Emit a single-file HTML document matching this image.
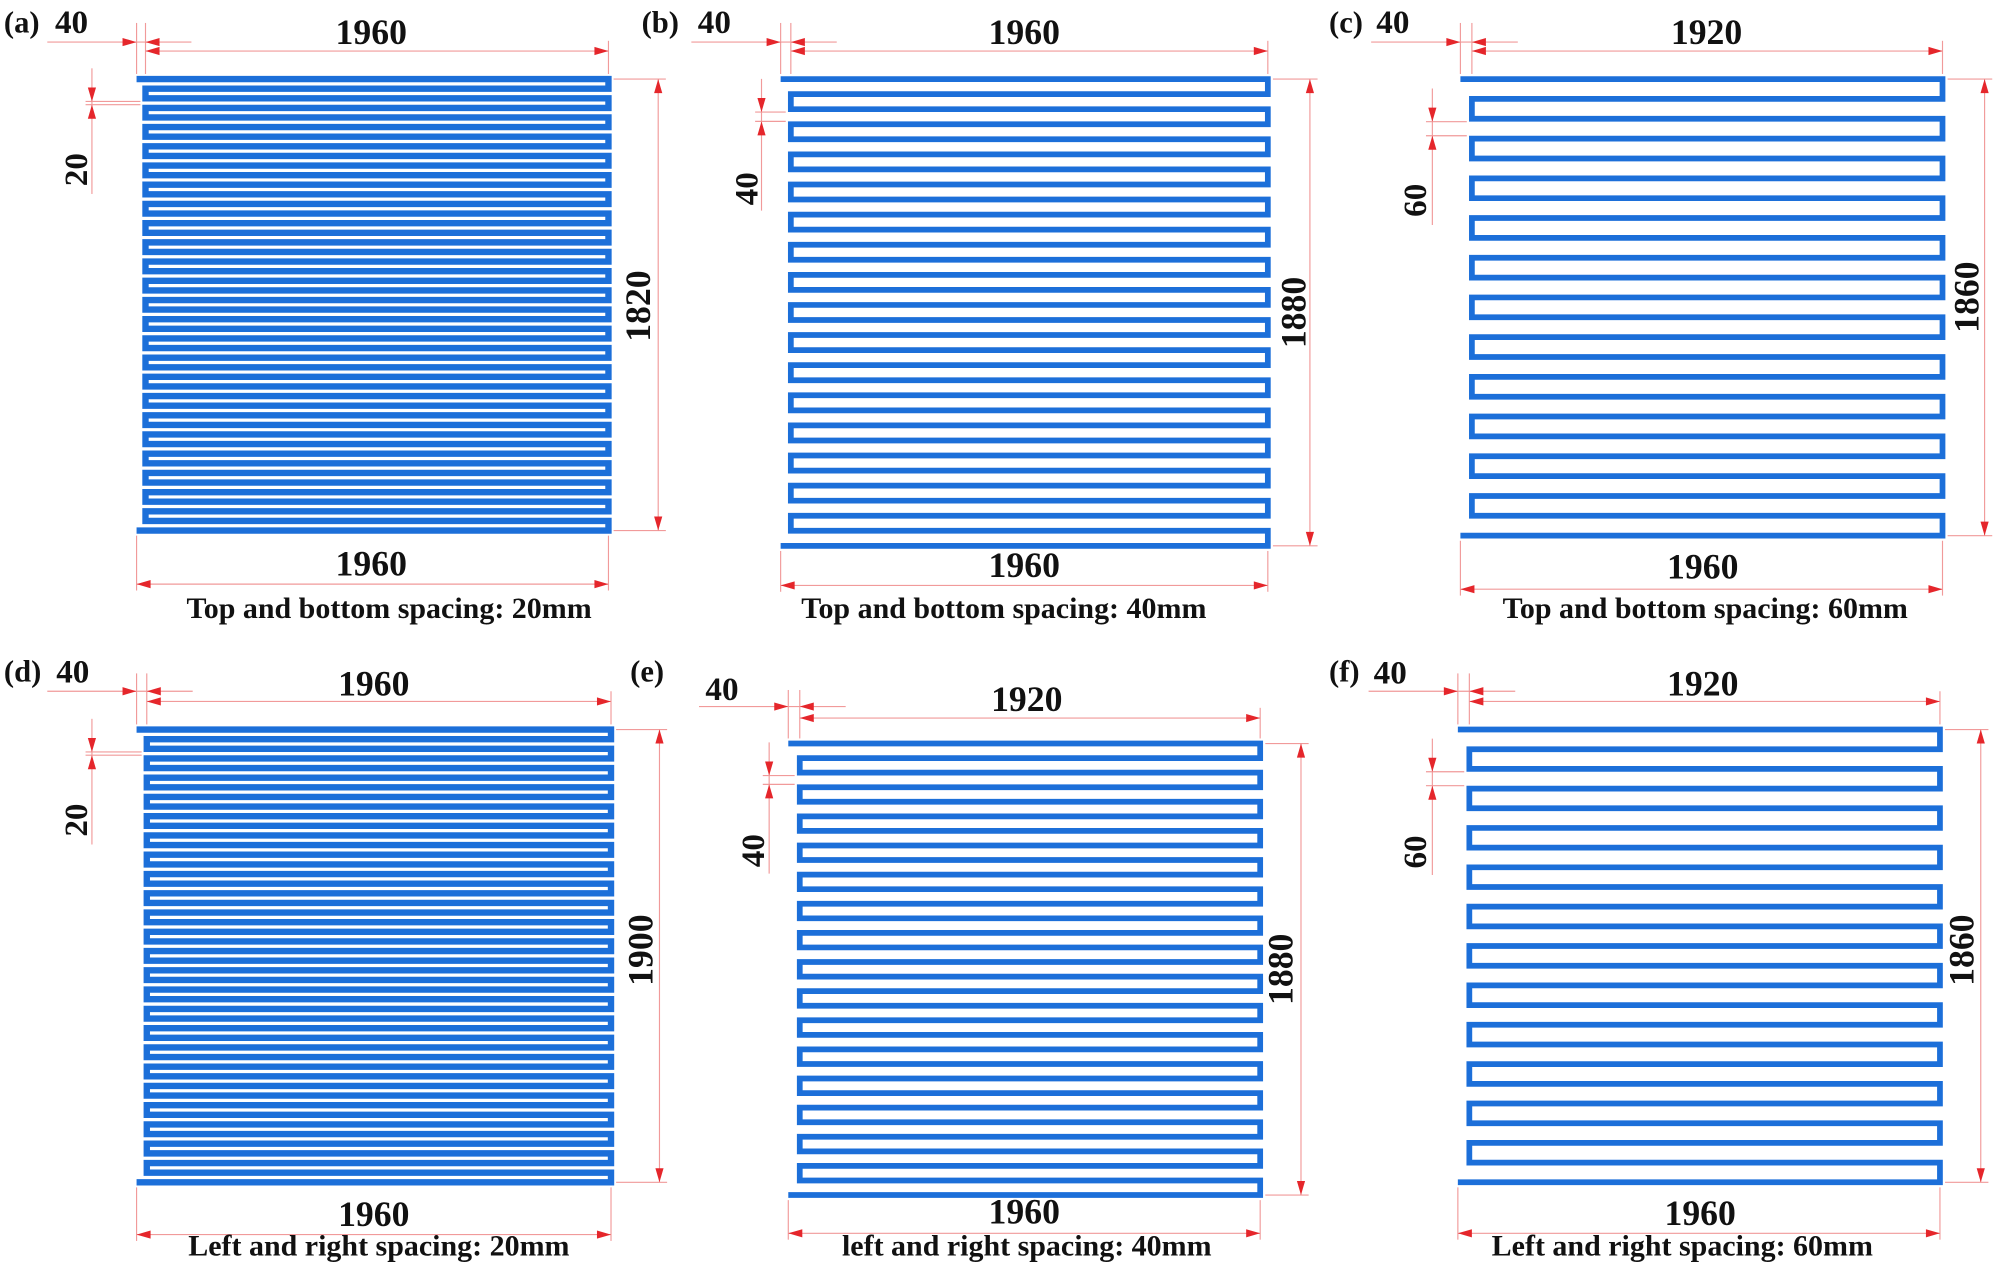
<!DOCTYPE html>
<html><head><meta charset="utf-8"><style>
html,body{margin:0;padding:0;background:#fff;}
svg{display:block;}
text{font-family:"Liberation Serif",serif;font-weight:bold;fill:#111;}
</style></head><body>
<svg id="fig" width="2000" height="1269" viewBox="0 0 1568 995"></svg>
<script>
// data
const panelLabels = ["(a)","(b)","(c)","(d)","(e)","(f)"];
const lineCounts = [48, 32, 24, 48, 32, 24];
const spacingValues = ["20","40","60","20","40","60"];
const topWidths = ["1960","1960","1920","1960","1920","1920"];
const bottomWidths = ["1960","1960","1960","1960","1960","1960"];
const heights = ["1820","1880","1860","1900","1880","1860"];
const offsetValues = ["40","40","40","40","40","40"];
const captions = ["Top and bottom spacing: 20mm","Top and bottom spacing: 40mm","Top and bottom spacing: 60mm",
  "Left and right spacing: 20mm","left and right spacing: 40mm","Left and right spacing: 60mm"];

// layout (positions only)
const layout = [
 {ol:107,il:114,r:477,t:62,b:416,lbl:[3,20],off:[56,20],tw:[291,28],tdy:40,ody:33,rx:516,hl:[503,240],lx:72,sl:[62,133],bw:[291,445],bdy:458,cap:[305,479],sw:5},
 {ol:612,il:620,r:994,t:62,b:428,lbl:[503,20],off:[560,20],tw:[803,28],tdy:40,ody:33,rx:1027,hl:[1017,245],lx:597,sl:[588,148],bw:[803,446],bdy:459,cap:[787,479],sw:4.5},
 {ol:1145,il:1154,r:1523,t:62,b:420,lbl:[1042,20],off:[1092,20],tw:[1338,28],tdy:40,ody:33,rx:1556,hl:[1545,233],lx:1123,sl:[1112,157],bw:[1335,447],bdy:462,cap:[1337,479],sw:4.5},
 {ol:107,il:115,r:479,t:572,b:927,lbl:[3,529],off:[57,529],tw:[293,539],tdy:550,ody:542,rx:517,hl:[505,745],lx:72,sl:[62,643],bw:[293,955],bdy:968,cap:[297,979],sw:5},
 {ol:618,il:627,r:988,t:583,b:937,lbl:[494,529],off:[566,543],tw:[805,551],tdy:563,ody:554,rx:1020,hl:[1007,760],lx:603,sl:[593,667],bw:[803,953],bdy:967,cap:[805,979],sw:4.5},
 {ol:1143,il:1152,r:1521,t:572,b:927,lbl:[1042,529],off:[1090,530],tw:[1335,539],tdy:550,ody:542,rx:1553,hl:[1541,745],lx:1123,sl:[1112,668],bw:[1333,954],bdy:967,cap:[1319,979],sw:4.5}
];

const NS="http://www.w3.org/2000/svg";
const svg=document.getElementById('fig');
const BLUE="#1c6fd9", RED="#e5262b", LRED="#f19a9a";
function mk(tag,attrs,parent){const e=document.createElementNS(NS,tag);for(const k in attrs)e.setAttribute(k,attrs[k]);(parent||svg).appendChild(e);return e;}
function line(g,x1,y1,x2,y2){return mk('line',{x1,y1,x2,y2,stroke:LRED,'stroke-width':0.9},g);}
function arrow(g,x,y,dir){
  const L=11,W=3.2;let p;
  if(dir==='r')p=`${x},${y} ${x-L},${y-W} ${x-L},${y+W}`;
  if(dir==='l')p=`${x},${y} ${x+L},${y-W} ${x+L},${y+W}`;
  if(dir==='d')p=`${x},${y} ${x-W},${y-L} ${x+W},${y-L}`;
  if(dir==='u')p=`${x},${y} ${x-W},${y+L} ${x+W},${y+L}`;
  return mk('polygon',{points:p,fill:RED},g);
}
function txt(g,x,y,s,size,rot,anchor){
  const t=mk('text',{x,y,'font-size':size,'text-anchor':anchor||'middle','dominant-baseline':'middle'},g);
  if(rot)t.setAttribute('transform',`rotate(-90 ${x} ${y})`);
  t.textContent=s;return t;
}

for(let i=0;i<layout.length;i++){
  const L=layout[i];
  const g=mk('g',{});
  
  
  const n=lineCounts[i];
  const ys=[];for(let k=0;k<n;k++)ys.push(L.t+k*(L.b-L.t)/(n-1));
  let d=`M${L.ol},${ys[0]} H${L.r}`;
  for(let k=1;k<n;k++){
    d+=` V${ys[k]}`;
    if(k===n-1) d+=` H${L.ol}`;
    else d+= (k%2===1)?` H${L.il}`:` H${L.r}`;
  }
  const p=mk('path',{d,fill:'none',stroke:BLUE,'stroke-width':L.sw,'stroke-linejoin':'miter','stroke-linecap':'butt'},g);
  
  

  const lb=txt(g,L.lbl[0],L.lbl[1],panelLabels[i],24,false,'start');
  
  

  line(g,L.ol,L.tdy-22,L.ol,L.t-4);
  line(g,L.il,L.tdy-22,L.il,L.t-4);
  line(g,L.r,L.tdy-8,L.r,L.t-4);
  line(g,L.il,L.tdy,L.r,L.tdy);
  arrow(g,L.il,L.tdy,'l');arrow(g,L.r,L.tdy,'r');
  line(g,L.ol-70,L.ody,L.il+36,L.ody);
  arrow(g,L.ol,L.ody,'r');arrow(g,L.il,L.ody,'l');
  const tw=txt(g,L.tw[0],L.tw[1],topWidths[i],28);
  
  
  const of=txt(g,L.off[0],L.off[1],offsetValues[i],26);
  
  

  line(g,L.r+4,L.t,L.rx+6,L.t);
  line(g,L.r+4,L.b,L.rx+6,L.b);
  line(g,L.rx,L.t,L.rx,L.b);
  arrow(g,L.rx,L.t,'u');arrow(g,L.rx,L.b,'d');
  const hl=txt(g,L.hl[0],L.hl[1],heights[i],28,true);
  
  

  const e1=ys[2]+L.sw/2, e2=ys[3]-L.sw/2;
  line(g,L.lx-5,e1,L.il-4,e1);
  line(g,L.lx-5,e2,L.il-4,e2);
  line(g,L.lx,e1-26,L.lx,e2+70);
  arrow(g,L.lx,e1,'d');arrow(g,L.lx,e2,'u');
  const sl=txt(g,L.sl[0],L.sl[1],spacingValues[i],26,true);
  
  

  line(g,L.ol,L.b+4,L.ol,L.bdy+5);
  line(g,L.r,L.b+4,L.r,L.bdy+5);
  line(g,L.ol,L.bdy,L.r,L.bdy);
  arrow(g,L.ol,L.bdy,'l');arrow(g,L.r,L.bdy,'r');
  const bw=txt(g,L.bw[0],L.bw[1],bottomWidths[i],28);
  
  
  const cp=txt(g,L.cap[0],L.cap[1],captions[i],23.5);
  
  
}
</script>
</body></html>
